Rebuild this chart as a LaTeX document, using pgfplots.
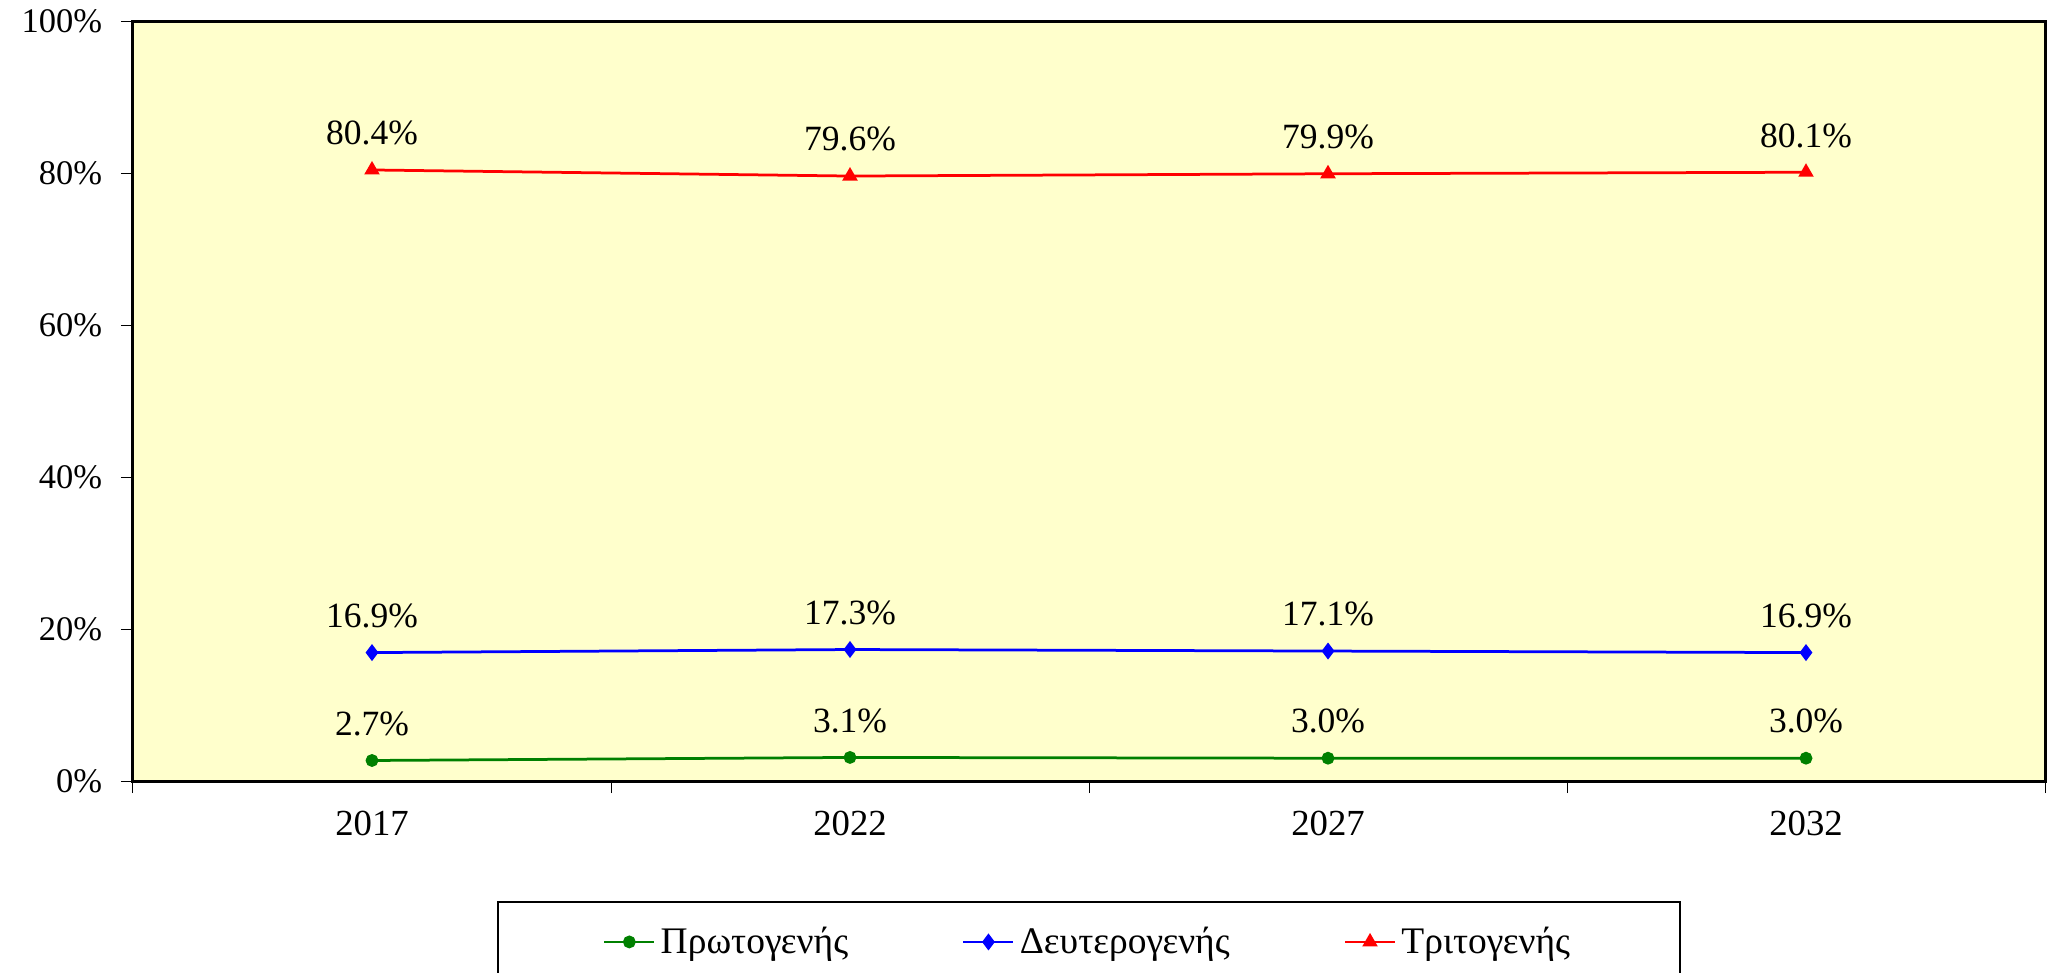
\documentclass[border=0pt]{standalone}
\usepackage{fontspec}
\setmainfont{Liberation Serif}
\usepackage{pgfplots}
\pgfplotsset{compat=1.18}
\definecolor{bgyellow}{HTML}{FFFFCC}
\definecolor{cgreen}{HTML}{008000}
\newcommand{\cfont}{\fontsize{13.8pt}{16pt}\selectfont}
\newcommand{\xfont}{\fontsize{14.7pt}{17pt}\selectfont}
\newcommand{\dfont}{\fontsize{14.2pt}{17pt}\selectfont}
\newcommand{\lfont}{\fontsize{15pt}{18pt}\selectfont}
\begin{document}
\begin{tikzpicture}
\useasboundingbox (-53.2pt,-76.4pt) rectangle (765.6pt,312.4pt);
\begin{axis}[
  at={(0pt,0pt)}, anchor=south west,
  scale only axis, width=764.8pt, height=304pt,
  xmin=-0.5, xmax=3.5, ymin=0, ymax=100,
  axis background/.style={fill=bgyellow},
  axis line style={line width=1.2pt, black},
  tick align=outside,
  xtick={-0.5,0.5,1.5,2.5,3.5}, xticklabels={},
  extra x ticks={0,1,2,3}, extra x tick labels={2017,2022,2027,2032},
  extra x tick style={tick style={draw=none}},
  xtick pos=bottom, ytick pos=left,
  ytick={0,20,40,60,80,100}, yticklabels={0\%,20\%,40\%,60\%,80\%,100\%},
  major tick length=4.8pt,
  tick style={line width=0.4pt, black},
  yticklabel style={font=\cfont, xshift=-4pt},
  xticklabel style={font=\xfont, yshift=-3.5pt},
  every node near coord/.append style={font=\dfont, text=black, anchor=south, yshift=6pt},
  legend style={at={(0.5,-0.158)}, anchor=north, legend columns=3, draw=black, line width=0.6pt, fill=white,
    inner xsep=42pt, inner ysep=8pt, font=\lfont,
    /tikz/every even column/.append style={column sep=43.6pt}},
  legend image code/.code={\draw[#1, line width=1.1pt, mark repeat=2, mark phase=2] plot coordinates {(0pt,0pt) (10pt,0pt) (20pt,0pt)};},
]
\addplot[cgreen, line width=1.1pt, mark=*, mark size=2pt, mark options={fill=cgreen},
  nodes near coords, point meta=explicit symbolic]
  coordinates {(0,2.7) [2.7\%] (1,3.1) [3.1\%] (2,3.0) [3.0\%] (3,3.0) [3.0\%]};
\addlegendentry{Πρωτογενής}
\addplot[blue, line width=1.1pt, mark=diamond*, mark size=2.5pt, mark options={fill=blue},
  nodes near coords, point meta=explicit symbolic]
  coordinates {(0,16.9) [16.9\%] (1,17.3) [17.3\%] (2,17.1) [17.1\%] (3,16.9) [16.9\%]};
\addlegendentry{Δευτερογενής}
\addplot[red, line width=1.1pt, mark=triangle*, mark size=2.5pt, mark options={fill=red},
  nodes near coords, point meta=explicit symbolic]
  coordinates {(0,80.4) [80.4\%] (1,79.6) [79.6\%] (2,79.9) [79.9\%] (3,80.1) [80.1\%]};
\addlegendentry{Τριτογενής}
\end{axis}
\end{tikzpicture}
\end{document}
